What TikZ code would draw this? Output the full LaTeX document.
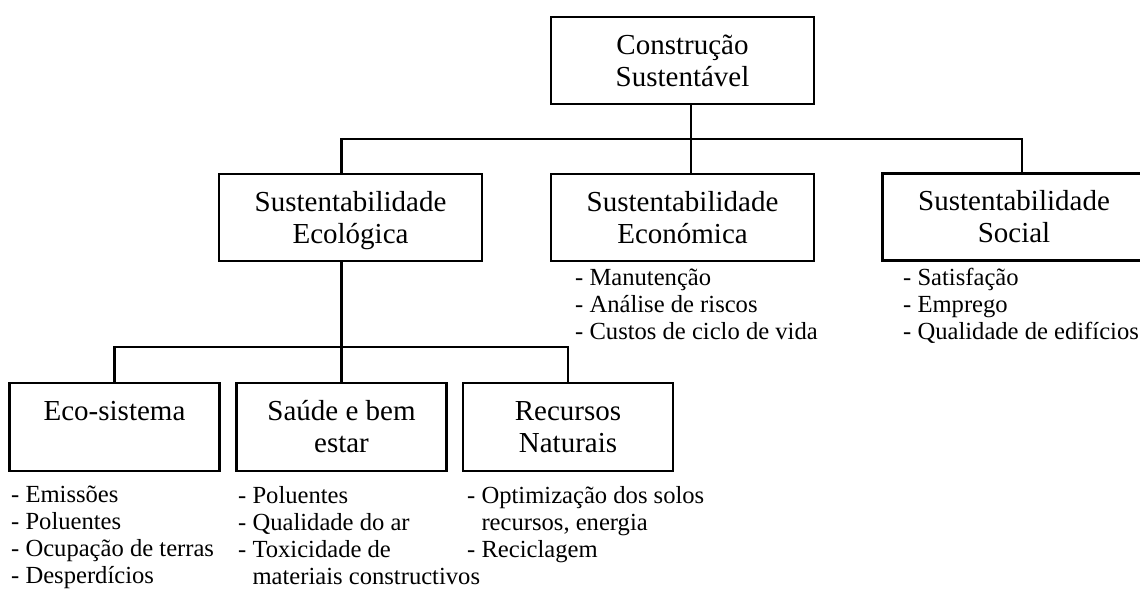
\documentclass[tikz,border=0pt]{standalone}
\usepackage{fontspec}
\setmainfont{Liberation Serif}
\begin{document}
\begin{tikzpicture}[x=1pt,y=-1pt,
  box/.style={draw,line width=2.2pt,inner sep=0pt,align=center,font=\fontsize{29}{32}\selectfont},
  topbox/.style={box,minimum width=263pt,minimum height=87pt},
  lowbox/.style={box,minimum width=210pt,minimum height=88pt},
  items/.style={inner sep=0pt,align=left,anchor=north west,font=\fontsize{24.6}{27}\selectfont},
  link/.style={line width=2.2pt}]
\fill[white] (0,0) rectangle (1140,590);
\clip (0,0) rectangle (1140,590);
% boxes
\node[topbox] (root) at (682.5,60.5) {Construção\\Sustentável};
\node[topbox] (ecol) at (350.5,217.5) {Sustentabilidade\\\raisebox{0pt}[\height][0pt]{Ecológica}};
\node[topbox] (econ) at (682.5,217.5) {Sustentabilidade\\Económica};
\node[topbox] (soc) at (1014,217) {Sustentabilidade\\Social};
\node[lowbox] (eco) at (114.5,427) {Eco-sistema\\\phantom{estar}};
\node[lowbox] (saude) at (341.5,427) {Saúde e bem\\estar};
\node[lowbox] (rec) at (568,427) {Recursos\\Naturais};
% connectors
\draw[link] ([xshift=8.5pt]root.south) -- ([xshift=8.5pt]econ.north);
\draw[link] ([xshift=-9pt]ecol.north) -- ++(0,-34) -| ([xshift=8pt]soc.north);
\draw[link] (saude.north) -- (saude.north |- ecol.south);
\draw[link] (eco.north) -- ++(0,-35) -| (rec.north);
% lists
\node[items] (econL) at (575,269) {- Manutenção\\- Análise de riscos\\- Custos de ciclo de vida};
\node[items] (socL) at (903,268) {- Satisfação\\- Emprego\\- Qualidade de edifícios};
\node[items] (ecoL) at (11,486) {- Emissões\\- Poluentes\\- Ocupação de terras\\- Desperdícios};
\node[items] (saudeL) at (238,486) {- Poluentes\\- Qualidade do ar\\- Toxicidade de\\\phantom{- }materiais constructivos};
\node[items] (recL) at (467,486) {- Optimização dos solos\\\phantom{- }recursos, energia\\- Reciclagem};
\end{tikzpicture}
\end{document}
